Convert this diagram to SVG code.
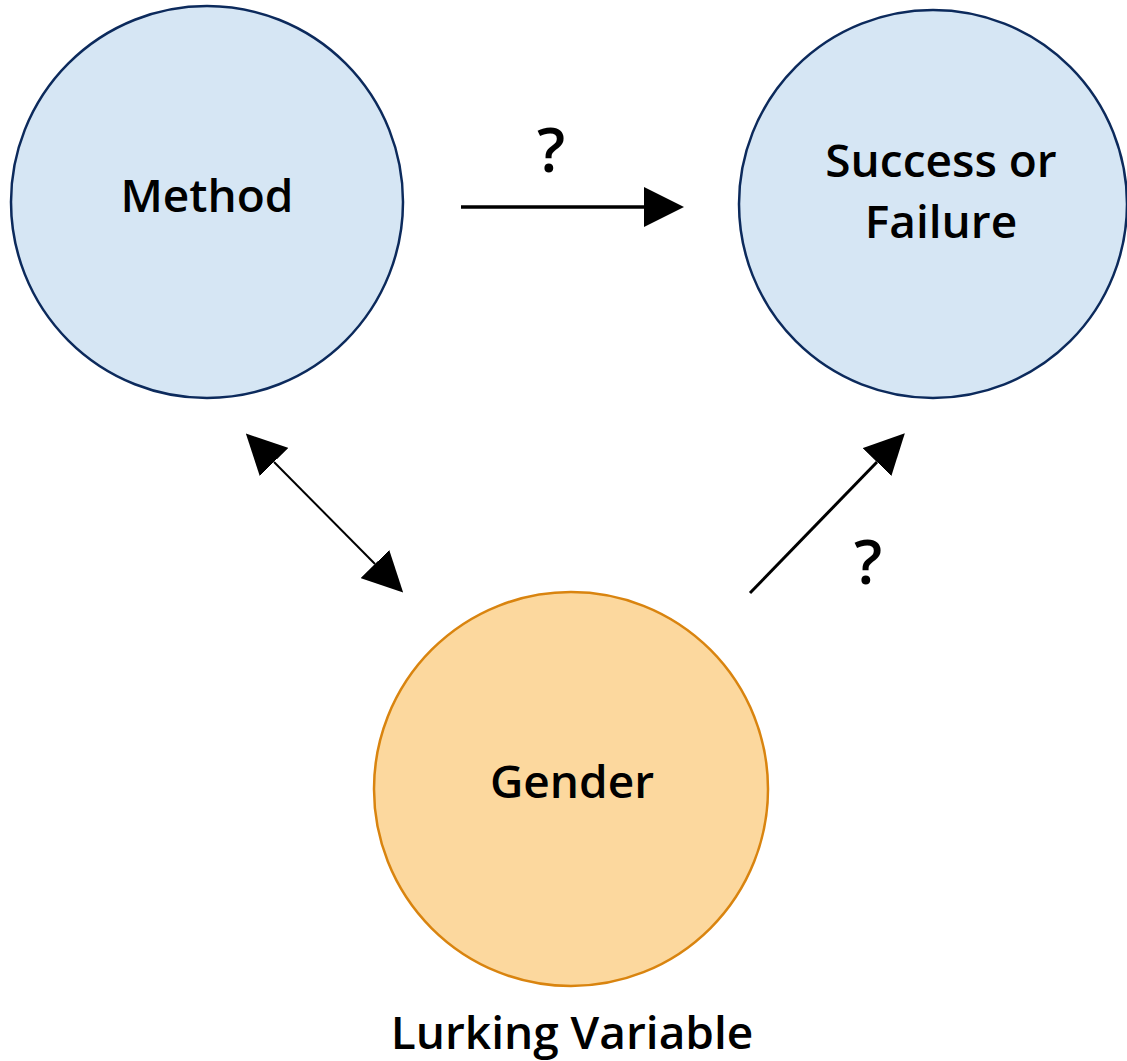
<svg xmlns="http://www.w3.org/2000/svg" width="1127" height="1061" viewBox="0 0 1127 1061">
<style>
.blue{fill:#d6e6f4;stroke:#0c2a5c;stroke-width:2.5}
.orange{fill:#fcd89e;stroke:#d9840f;stroke-width:2.5}
.lbl{font-family:"Open Sans","DejaVu Sans",sans-serif;font-size:46px;font-weight:600;fill:#000;text-anchor:middle}
.q{font-family:"Open Sans","DejaVu Sans",sans-serif;font-size:62px;font-weight:600;fill:#000;text-anchor:middle}
.conn{stroke:#000;fill:none}
</style>
<defs>
<marker id="ah" markerUnits="userSpaceOnUse" markerWidth="40" markerHeight="40" viewBox="0 0 40 40" refX="0" refY="20" orient="auto-start-reverse">
<path d="M0,0 L40,20 L0,40 z" fill="#000"/>
</marker>
</defs>
<rect width="1127" height="1061" fill="#fff"/>
<g id="connectors">
<line class="conn" x1="461" y1="207" x2="644" y2="207" stroke-width="3.5" marker-end="url(#ah)"/>
<line class="conn" x1="274" y1="462" x2="375" y2="564" stroke-width="2" marker-start="url(#ah)" marker-end="url(#ah)"/>
<line class="conn" x1="750" y1="593" x2="877" y2="462" stroke-width="3" marker-end="url(#ah)"/>
<text class="q" x="551" y="172">?</text>
<text class="q" x="868" y="584">?</text>
</g>
<g id="node-method">
<circle class="blue" cx="207" cy="202" r="196"/>
<text class="lbl" x="207" y="212">Method</text>
</g>
<g id="node-success">
<circle class="blue" cx="933" cy="204" r="194"/>
<text class="lbl" x="941" y="177">Success or</text>
<text class="lbl" x="941" y="238">Failure</text>
</g>
<g id="node-gender">
<circle class="orange" cx="571" cy="789" r="197"/>
<text class="lbl" x="572" y="798">Gender</text>
</g>
<text class="lbl" x="572" y="1049">Lurking Variable</text>
</svg>
